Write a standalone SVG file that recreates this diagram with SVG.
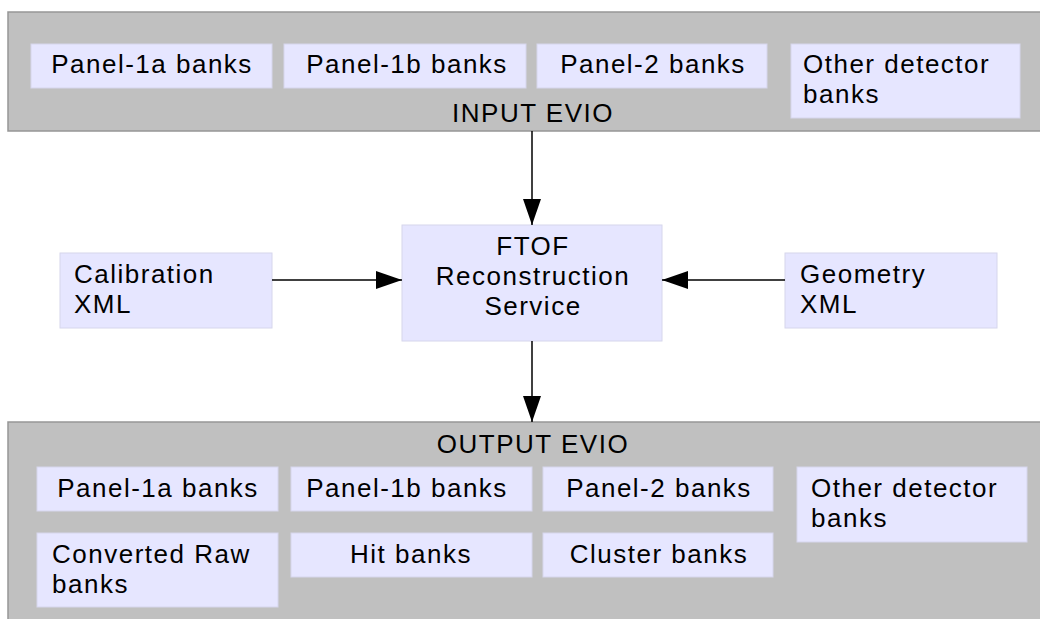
<svg xmlns="http://www.w3.org/2000/svg" width="1040" height="619" viewBox="0 0 1040 619">
  <style>
    .container { fill: #c0c0c0; stroke: #969696; stroke-width: 1.5; }
    .bank { fill: #e6e6ff; stroke: #d6d6ec; stroke-width: 1; }
    .label { font-family: "Liberation Sans", Arial, sans-serif; font-size: 26px; letter-spacing: 1.5px; fill: #000; }
    .mid { text-anchor: middle; }
    .edge { stroke: #000; stroke-width: 1.5; fill: none; marker-end: url(#head); }
  </style>
  <defs>
    <marker id="head" markerUnits="userSpaceOnUse" markerWidth="28" markerHeight="20" refX="26" refY="9" orient="auto">
      <path d="M0,0 L26,9 L0,18 Z" fill="#000"/>
    </marker>
  </defs>
  <rect width="1040" height="619" fill="#fff"/>

  <!-- input event container -->
  <g id="input-evio">
    <rect class="container" x="8" y="12" width="1040" height="119"/>
    <text class="label mid" x="533" y="122">INPUT EVIO</text>
  </g>
  <g id="in-panel-1a">
    <rect class="bank" x="31" y="44" width="241" height="44"/>
    <text class="label mid" x="152" y="73">Panel-1a banks</text>
  </g>
  <g id="in-panel-1b">
    <rect class="bank" x="284" y="44" width="242" height="44"/>
    <text class="label mid" x="407" y="73">Panel-1b banks</text>
  </g>
  <g id="in-panel-2">
    <rect class="bank" x="537" y="44" width="230" height="44"/>
    <text class="label mid" x="653" y="73">Panel-2 banks</text>
  </g>
  <g id="in-other">
    <rect class="bank" x="791" y="44" width="229" height="74"/>
    <text class="label" x="803" y="73">Other detector</text>
    <text class="label" x="803" y="103">banks</text>
  </g>

  <!-- reconstruction service and its inputs -->
  <g id="ftof-service">
    <rect class="bank" x="402" y="225" width="260" height="116"/>
    <text class="label mid" x="533" y="255">FTOF</text>
    <text class="label mid" x="533" y="285">Reconstruction</text>
    <text class="label mid" x="533" y="315">Service</text>
  </g>
  <g id="calibration-xml">
    <rect class="bank" x="60" y="253" width="212" height="75"/>
    <text class="label" x="74" y="283">Calibration</text>
    <text class="label" x="74" y="313">XML</text>
  </g>
  <g id="geometry-xml">
    <rect class="bank" x="785" y="253" width="212" height="75"/>
    <text class="label" x="800" y="283">Geometry</text>
    <text class="label" x="800" y="313">XML</text>
  </g>

  <!-- output event container -->
  <g id="output-evio">
    <rect class="container" x="8" y="422" width="1040" height="210"/>
    <text class="label mid" x="533" y="453">OUTPUT EVIO</text>
  </g>
  <g id="out-panel-1a">
    <rect class="bank" x="37" y="467" width="241" height="44"/>
    <text class="label mid" x="158" y="497">Panel-1a banks</text>
  </g>
  <g id="out-panel-1b">
    <rect class="bank" x="291" y="467" width="241" height="44"/>
    <text class="label mid" x="407" y="497">Panel-1b banks</text>
  </g>
  <g id="out-panel-2">
    <rect class="bank" x="543" y="467" width="230" height="44"/>
    <text class="label mid" x="659" y="497">Panel-2 banks</text>
  </g>
  <g id="out-other">
    <rect class="bank" x="797" y="467" width="230" height="75"/>
    <text class="label" x="811" y="497">Other detector</text>
    <text class="label" x="811" y="527">banks</text>
  </g>
  <g id="out-converted-raw">
    <rect class="bank" x="37" y="533" width="241" height="74"/>
    <text class="label" x="52" y="563">Converted Raw</text>
    <text class="label" x="52" y="593">banks</text>
  </g>
  <g id="out-hit">
    <rect class="bank" x="291" y="533" width="241" height="44"/>
    <text class="label mid" x="411" y="563">Hit banks</text>
  </g>
  <g id="out-cluster">
    <rect class="bank" x="543" y="533" width="230" height="44"/>
    <text class="label mid" x="659" y="563">Cluster banks</text>
  </g>

  <!-- connectors -->
  <g id="connectors">
    <path class="edge" d="M532,131 L532,225"/>
    <path class="edge" d="M272,280 L402,280"/>
    <path class="edge" d="M785,280 L662,280"/>
    <path class="edge" d="M532,341 L532,422"/>
  </g>
</svg>
